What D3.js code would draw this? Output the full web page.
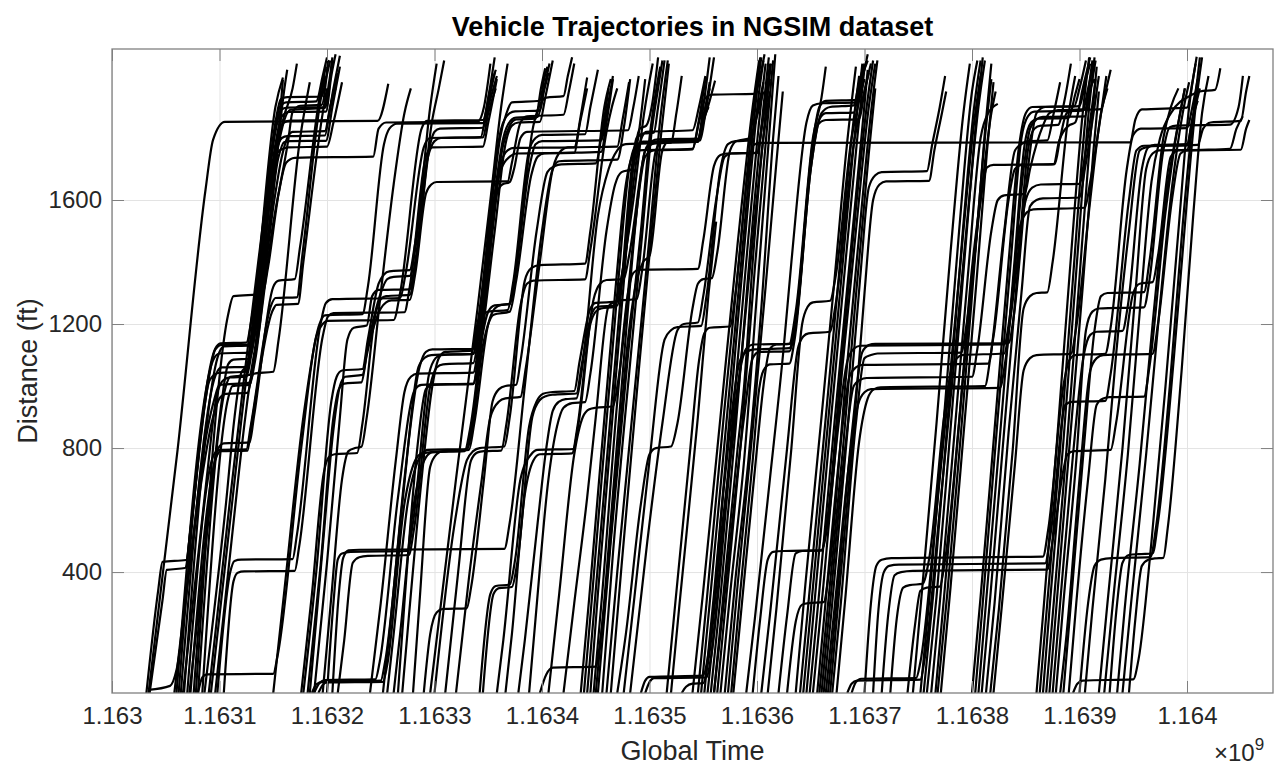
<!DOCTYPE html>
<html>
<head>
<meta charset="utf-8">
<script src="https://cdn.jsdelivr.net/npm/d3@7"></script>
<style>
  html, body { margin: 0; padding: 0; background: #fff; overflow: hidden; }
  svg { display: block; }
  text { font-family: "Liberation Sans", Arial, Helvetica, sans-serif; }
</style>
</head>
<body>
<div id="chart"></div>
<script>
const width = 1276, height = 767;
const margin = {top: 49, right: 3, bottom: 74, left: 112};
const innerWidth = width - margin.left - margin.right;
const innerHeight = height - margin.top - margin.bottom;

// global time is in ms; trajectory times below are seconds after timeBase
const timeBase = 1163000000;
const timeSpan = 1080;           // seconds shown on the x axis
const distanceRange = [10, 2087]; // ft

const xTickSeconds = [0, 100, 200, 300, 400, 500, 600, 700, 800, 900, 1000];
const xTickLabels = ["1.163", "1.1631", "1.1632", "1.1633", "1.1634", "1.1635",
                     "1.1636", "1.1637", "1.1638", "1.1639", "1.164"];
const yTicks = [400, 800, 1200, 1600];

// each vehicle: [seconds after timeBase, distance ft]
const wave1 = [
  [[34,10],[61,794],[87,1633],[94,1794],[105,1852],[247,1855],[257,1975]],
  [[32,10],[43,342],[47,433],[69,439],[73,536],[87,955],[96,1117],[102,1133],[127,1133],[133,1213],[152,1697],[159,1988]],
  [[35,10],[47,310],[51,407],[68,413],[74,568],[91,1020],[99,1042],[124,1046],[131,1149],[147,1600],[154,1762],[166,1891],[198,1897],[205,2052]],
  [[34,20],[54,33],[60,84],[73,439],[87,826],[95,955],[100,1004],[127,1010],[134,1117],[149,1504],[164,1794],[168,1884],[175,1904],[195,1907],[201,2052]],
  [[60,10],[95,1090],[100,1105],[127,1108],[131,1180],[152,1850],[157,1925],[163,1932],[195,1933],[199,1990],[203,2050]],
  [[64,10],[97,1040],[102,1060],[126,1062],[130,1130],[152,1820],[157,1890],[163,1898],[197,1899],[202,1980],[205,2060]],
  [[67,10],[100,1110],[104,1128],[129,1131],[133,1200],[152,1780],[158,1870],[165,1884],[199,1885],[204,2000],[208,2070]],
  [[70,10],[95,780],[100,794],[125,796],[129,870],[148,1260],[152,1284],[172,1286],[177,1420],[193,1900],[198,2000]],
  [[62,10],[96,1120],[101,1138],[125,1140],[130,1220],[150,1790],[156,1900],[162,1915],[190,1918],[196,2000],[200,2060]],
  [[66,10],[88,700],[98,980],[104,1020],[110,1028],[125,1030],[130,1110],[150,1700],[160,1870],[168,1960],[172,2040]],
  [[72,10],[92,640],[102,950],[108,1070],[113,1085],[128,1088],[133,1170],[154,1800],[160,1850],[166,1856],[200,1858],[206,1960],[212,2065]]
];
const wave2 = [
  [[73,10],[97,770],[101,790],[126,792],[130,880],[149,1240],[153,1262],[173,1265],[178,1400],[196,1880],[200,1960]],
  [[76,10],[99,800],[104,815],[128,818],[132,900],[150,1320],[155,1340],[170,1345],[175,1450],[194,1950],[199,2030]],
  [[80,10],[106,1000],[110,1030],[128,1036],[132,1100],[153,1760],[158,1800],[163,1806],[198,1808],[203,1900],[210,2010]],
  [[84,10],[108,960],[112,1000],[128,1004],[133,1080],[155,1740],[160,1786],[166,1790],[199,1791],[205,1900],[212,2030]],
  [[78,10],[108,1230],[113,1290],[140,1297],[145,1380],[155,1620],[162,1720],[170,1736],[243,1740],[248,1830],[255,1850],[340,1852],[346,1900],[352,2040]],
  [[80,10],[84,60],[88,70],[150,72],[154,130],[176,800],[190,1160],[196,1200],[200,1210],[262,1213],[268,1300],[288,1830],[293,1855],[345,1858],[352,1960],[357,2020]],
  [[92,10],[120,880],[134,1300],[152,1900],[159,1995]],
  [[96,10],[118,720],[124,900],[128,1000],[132,1040],[150,1046],[155,1150],[175,1800],[184,1980]],
  [[86,10],[106,620],[114,900],[120,1040],[126,1070],[132,1150],[152,1700],[160,1950],[163,2020]],
  [[90,10],[110,640],[122,1000],[136,1400],[148,1700],[156,1760],[164,1770],[200,1772],[206,1850],[214,1980]],
  [[58,10],[80,620],[94,900],[100,960],[106,975],[126,978],[131,1060],[151,1600],[158,1740],[163,1800],[168,1820],[198,1822],[203,1900],[208,1960]]
];
const wave3 = [
  [[98,10],[110,400],[114,436],[120,440],[168,442],[172,520],[194,1200],[199,1268],[205,1280],[268,1284],[273,1360],[290,1770],[296,1800],[343,1803],[348,1880],[356,2010]],
  [[104,10],[113,370],[117,398],[123,402],[170,404],[174,480],[196,1160],[201,1225],[206,1235],[272,1238],[277,1320],[292,1740],[298,1770],[345,1772],[350,1850],[358,1990]],
  [[150,10],[160,330],[178,900],[193,1200],[198,1228],[233,1232],[238,1320],[253,1780],[258,1830],[265,1846],[345,1848],[350,1930],[356,2060]],
  [[186,10],[190,38],[196,46],[250,50],[254,110],[270,620],[285,1060],[291,1092],[297,1100],[336,1104],[341,1190],[355,1640],[361,1800],[367,1880],[372,1915],[398,1920],[402,1990],[405,2030]],
  [[188,10],[193,42],[198,52],[245,54],[249,110],[266,640],[282,990],[288,1004],[336,1008],[341,1100],[358,1650],[364,1780],[370,1840],[376,1860],[394,1862],[399,1960],[403,2025]],
  [[192,10],[196,36],[200,44],[252,46],[256,100],[272,620],[282,760],[288,782],[295,786],[330,794],[335,860],[345,1130],[350,1200],[355,1230],[370,1240],[376,1340],[390,1680],[396,1740],[402,1750],[455,1755],[460,1850],[466,1990]],
  [[176,10],[186,330],[197,720],[202,772],[207,780],[228,784],[233,880],[245,1230],[250,1280],[255,1290],[277,1294],[282,1380],[296,1780],[300,1820],[305,1830],[345,1833],[350,1900],[358,2000]],
  [[178,10],[190,400],[204,950],[209,1030],[214,1050],[233,1055],[238,1150],[248,1330],[253,1360],[258,1370],[277,1374],[282,1460],[294,1740],[300,1790],[306,1800],[345,1802],[350,1880],[357,1960]],
  [[184,10],[196,480],[206,860],[212,1000],[217,1030],[233,1036],[238,1130],[250,1300],[256,1345],[262,1352],[277,1355],[282,1440],[296,1900],[302,2040]],
  [[196,10],[204,320],[214,700],[220,790],[226,800],[232,804],[237,900],[250,1300],[262,1650],[272,1880],[278,1960]]
];
const wave4 = [
  [[182,10],[194,420],[206,900],[211,990],[216,1008],[232,1012],[237,1100],[250,1250],[255,1270],[260,1276],[277,1278],[282,1360],[292,1620],[297,1650],[302,1658],[368,1660],[372,1720],[380,1850],[386,1870],[420,1875],[425,1950],[430,2040]],
  [[188,10],[200,430],[212,900],[219,1150],[225,1188],[237,1195],[242,1290],[248,1310],[277,1312],[282,1400],[298,1860],[304,1960],[309,2050]],
  [[200,10],[206,300],[210,440],[214,460],[222,465],[275,468],[280,560],[295,1040],[301,1090],[306,1100],[336,1104],[341,1200],[356,1700],[362,1830],[370,1880],[375,1886],[398,1888],[402,1960],[407,2040]],
  [[205,10],[211,330],[215,445],[220,470],[230,472],[365,475],[370,560],[384,1000],[400,1500],[410,1700],[416,1725],[470,1730],[476,1830],[482,1990]],
  [[252,10],[258,200],[272,700],[286,1060],[292,1110],[298,1118],[336,1120],[340,1200],[345,1230],[350,1240],[368,1245],[373,1330],[388,1760],[394,1800],[400,1810],[440,1812],[445,1900],[452,2020]],
  [[256,10],[262,200],[275,620],[288,780],[294,794],[330,797],[335,880],[345,1170],[350,1240],[356,1260],[370,1264],[375,1350],[388,1700],[394,1780],[400,1790],[455,1792],[460,1880],[466,2000]],
  [[262,10],[268,200],[280,600],[292,770],[298,786],[328,790],[333,860],[348,1300],[358,1620],[363,1650],[370,1658],[374,1700],[380,1800],[386,1820],[480,1825],[485,1900],[490,2000]],
  [[266,10],[272,300],[284,800],[292,990],[298,1004],[336,1006],[341,1090],[356,1500],[366,1780],[372,1840],[378,1850],[398,1852],[403,1930],[410,2050]],
  [[210,10],[216,180],[224,430],[230,448],[238,452],[276,455],[281,540],[296,1000],[302,1060],[308,1070],[336,1074],[341,1160],[356,1620],[364,1800],[372,1860],[376,1866],[396,1868],[401,1940],[406,2010]],
  [[240,10],[250,300],[264,760],[272,980],[278,1030],[284,1040],[336,1043],[341,1130],[354,1500],[362,1720],[368,1760],[374,1768],[430,1770],[436,1860],[442,1960]]
];
const wave5 = [
  [[270,10],[276,250],[288,700],[298,1000],[304,1090],[310,1110],[335,1114],[340,1200],[354,1580],[362,1700],[370,1740],[376,1750],[430,1752],[435,1850],[442,1995]],
  [[290,10],[296,200],[302,270],[308,281],[330,283],[334,350],[346,700],[354,950],[360,990],[366,1000],[376,1004],[380,1080],[395,1500],[405,1690],[412,1710],[418,1715],[450,1718],[455,1800],[462,1960]],
  [[280,10],[286,300],[296,740],[302,780],[308,790],[332,794],[337,880],[350,1200],[356,1250],[362,1262],[370,1265],[375,1360],[392,1840],[397,1900],[404,1930],[420,1935],[424,2000],[428,2060]],
  [[296,10],[320,700],[340,1250],[352,1600],[362,1900],[368,2040]],
  [[300,10],[318,540],[330,760],[336,790],[342,800],[365,805],[370,900],[384,1340],[390,1380],[398,1390],[440,1395],[445,1500],[458,1900],[464,1990]],
  [[342,10],[352,330],[357,355],[370,360],[375,440],[388,870],[395,950],[401,975],[408,980],[430,984],[435,1080],[445,1250],[450,1268],[470,1272],[475,1370],[488,1765],[494,1788],[547,1792],[552,1880],[560,2060]],
  [[345,10],[355,330],[360,348],[372,352],[377,430],[391,900],[398,955],[404,968],[410,972],[432,976],[437,1070],[446,1230],[451,1255],[470,1260],[475,1350],[490,1770],[497,1820],[540,1825],[546,1900],[552,2000]],
  [[358,10],[364,180],[380,700],[390,780],[396,794],[429,797],[434,880],[448,1280],[454,1330],[460,1342],[476,1345],[481,1420],[496,1760],[502,1790],[508,1796],[545,1798],[550,1870],[556,1960]],
  [[310,10],[322,400],[334,760],[340,786],[346,790],[362,792],[367,880],[380,1260],[386,1330],[392,1340],[440,1344],[445,1440],[460,1820],[465,1900],[470,1960]],
  [[320,10],[332,380],[344,700],[352,900],[360,950],[366,960],[380,965],[385,1060],[398,1400],[410,1700],[418,1760],[424,1770],[470,1772],[475,1860],[481,1980]]
];
const wave6 = [
  [[366,10],[372,200],[384,650],[392,760],[398,780],[428,783],[433,870],[445,1200],[450,1240],[455,1250],[467,1255],[472,1320],[485,1600],[495,1880],[503,2040]],
  [[378,10],[384,180],[396,560],[404,800],[410,920],[416,950],[422,958],[432,960],[437,1050],[452,1550],[462,1700],[470,1760],[478,1780],[520,1785],[525,1880],[530,2000]],
  [[388,10],[394,250],[406,700],[414,870],[420,930],[428,945],[440,948],[445,1040],[460,1500],[468,1650],[474,1690],[484,1700],[489,1790],[496,1990]],
  [[398,10],[404,70],[410,92],[450,95],[455,200],[470,760],[480,1150],[488,1340],[494,1400],[500,1420],[512,1760],[518,1790],[545,1795],[550,1860],[555,1900]],
  [[436,10],[444,320],[468,1300],[478,1650],[484,1740],[490,1760],[540,1765],[546,1850],[552,1930],[558,1940],[598,1942],[603,2000],[607,2070]],
  [[439,10],[447,340],[470,1300],[481,1700],[487,1775],[493,1785],[545,1788],[550,1850],[556,1920],[561,1985]],
  [[442,10],[449,300],[473,1280],[483,1690],[488,1800],[495,1815],[504,1817],[508,1900],[514,2050]],
  [[445,10],[452,330],[476,1330],[486,1750],[491,1830],[497,1840],[502,1900],[508,2060]],
  [[406,10],[416,330],[430,780],[438,900],[444,925],[450,930],[466,934],[471,1020],[486,1500],[496,1760],[502,1780],[508,1785],[545,1787],[550,1860],[556,1980]],
  [[420,10],[430,300],[442,640],[450,900],[462,1258],[468,1272],[472,1276],[488,1280],[493,1370],[506,1760],[512,1790],[545,1793],[550,1900],[556,2060]]
];
const wave7 = [
  [[448,10],[456,330],[470,950],[480,1300],[485,1365],[490,1375],[545,1378],[550,1470],[560,1710],[566,1745],[572,1750],[600,1752],[605,1850],[612,2040]],
  [[452,10],[464,500],[480,1100],[492,1500],[500,1800],[506,1950],[510,2030]],
  [[456,10],[466,460],[484,1150],[494,1520],[502,1820],[508,1960],[512,2050]],
  [[460,10],[470,400],[488,1050],[500,1480],[510,1860],[517,2050]],
  [[470,10],[478,200],[492,620],[500,780],[506,800],[520,805],[526,880],[540,1250],[545,1330],[550,1345],[558,1348],[563,1430],[575,1760],[581,1790],[594,1800],[600,1870],[606,1950]],
  [[482,10],[498,500],[512,880],[526,1180],[532,1200],[545,1205],[550,1290],[562,1600],[570,1740],[576,1750],[600,1752],[605,1850],[612,1990]],
  [[492,10],[496,50],[500,62],[550,66],[554,120],[570,700],[584,1080],[590,1110],[598,1118],[630,1122],[636,1200],[650,1700],[660,1880],[668,1900],[690,1905],[695,1980],[700,2040]],
  [[496,10],[500,45],[504,58],[553,60],[557,120],[572,640],[582,1000],[590,1120],[597,1134],[631,1136],[636,1220],[652,1790],[658,1900],[664,1920],[693,1923],[698,2000],[703,2050]],
  [[450,10],[458,310],[480,1250],[490,1620],[496,1740],[504,1760],[540,1763],[545,1840],[552,1990]],
  [[464,10],[474,420],[490,1050],[502,1500],[511,1820],[518,2040]],
  [[476,10],[486,320],[500,760],[514,1150],[520,1180],[526,1190],[548,1194],[553,1290],[566,1700],[573,1780],[580,1790],[594,1792],[600,1880],[606,1980]]
];
const wave8 = [
  [[516,10],[524,300],[538,800],[546,1080],[551,1170],[556,1188],[575,1192],[580,1300],[592,1700],[597,1778],[603,1784],[947,1786],[952,1860],[958,1892],[1000,1898],[1005,1980],[1009,2062]],
  [[520,10],[528,300],[545,900],[555,1300],[562,1530]],
  [[530,10],[534,30],[540,40],[550,42],[555,120],[568,560],[580,900],[594,1400],[606,1800],[612,1950]],
  [[548,10],[556,300],[572,900],[588,1500],[600,1950],[604,2060]],
  [[551,10],[560,330],[575,920],[590,1520],[602,1950],[606,2050]],
  [[554,10],[562,280],[577,880],[592,1480],[604,1920],[608,2040]],
  [[557,10],[566,320],[580,860],[594,1450],[606,1900],[611,2060]],
  [[560,10],[568,300],[582,800],[588,1000],[596,1400],[608,1880],[613,2040]],
  [[563,10],[572,340],[585,820],[598,1380],[610,1860],[615,2050]],
  [[566,10],[575,330],[588,760],[600,1300],[612,1840],[617,2070]],
  [[570,10],[580,380],[592,760],[604,1250],[615,1800],[620,2000]],
  [[560,10],[570,330],[588,900],[596,1090],[602,1110],[630,1112],[636,1200],[650,1720],[656,1840],[664,1858],[695,1860],[700,1950],[706,2040]],
  [[573,10],[582,360],[596,860],[608,1320],[618,1720],[624,1950]],
  [[576,10],[584,320],[596,760],[602,990],[606,1050],[612,1070],[630,1072],[635,1150],[650,1700],[658,1860],[664,1880],[690,1882],[695,1960],[700,2030]],
  [[540,10],[550,340],[566,900],[582,1460],[596,1900],[602,2050]],
  [[545,10],[553,300],[569,900],[585,1470],[598,1930],[603,2060]],
  [[578,10],[586,300],[600,800],[606,1000],[612,1120],[618,1134],[630,1136],[636,1240],[652,1800],[660,1930],[664,2030]]
];
const wave9 = [
  [[596,10],[603,250],[610,440],[615,465],[625,468],[660,470],[665,560],[678,1050],[690,1500],[702,1900],[708,2050]],
  [[628,10],[636,240],[642,295],[648,300],[662,303],[667,400],[682,1000],[694,1450],[706,1880],[712,2050]],
  [[640,10],[650,380],[664,900],[676,1350],[688,1800],[695,2000]],
  [[643,10],[652,350],[666,880],[678,1330],[690,1780],[698,2040]],
  [[646,10],[655,360],[669,900],[681,1350],[693,1790],[700,2030]],
  [[649,10],[658,340],[672,880],[684,1320],[696,1760],[703,2020]],
  [[652,10],[661,330],[675,850],[684,1080],[690,1120],[696,1130],[830,1134],[835,1220],[848,1700],[854,1830],[860,1860],[866,1868],[905,1870],[910,1950],[915,2050]],
  [[656,10],[665,350],[678,820],[686,1030],[692,1060],[698,1068],[815,1072],[820,1160],[834,1600],[840,1700],[846,1713],[877,1716],[882,1800],[888,1880],[894,1890],[920,1893],[925,1960],[929,2020]],
  [[660,10],[668,300],[682,800],[690,1000],[696,1020],[702,1026],[800,1030],[805,1120],[818,1500],[824,1600],[830,1615],[849,1620],[854,1700],[866,1840],[872,1880],[880,1890],[905,1892],[910,1960],[914,1990]],
  [[604,10],[612,260],[628,800],[638,1120],[643,1160],[648,1170],[668,1175],[673,1260],[690,1780],[698,1920],[704,2010]],
  [[610,10],[618,280],[632,800],[642,1200],[647,1255],[652,1270],[668,1275],[673,1350],[688,1800],[695,1920],[700,1990]],
  [[590,10],[598,250],[612,700],[625,1130],[632,1400],[646,1850],[652,1905],[660,1912],[693,1915],[698,1990],[703,2070]],
  [[636,10],[645,360],[660,900],[672,1340],[684,1790],[692,2030]],
  [[658,10],[667,330],[680,800],[692,1290],[704,1750],[710,1960]],
  [[620,10],[628,260],[636,460],[642,468],[660,470],[666,560],[680,1080],[692,1500],[704,1900],[710,2040]],
  [[666,10],[674,300],[688,840],[698,1110],[704,1132],[710,1136],[834,1138],[839,1230],[852,1700],[860,1880],[868,1900],[900,1903],[906,1990],[910,2040]]
];
const wave10 = [
  [[664,10],[672,280],[686,760],[694,940],[700,980],[706,990],[826,994],[831,1080],[845,1520],[851,1560],[857,1570],[905,1575],[910,1660],[925,2000]],
  [[670,10],[678,300],[692,880],[700,1090],[706,1100],[712,1105],[790,1108],[795,1200],[808,1600],[818,1880],[822,1950]],
  [[674,10],[682,310],[695,820],[703,960],[709,990],[715,996],[812,1000],[817,1090],[830,1500],[840,1760],[846,1780],[852,1790],[870,1792],[876,1880],[882,1980]],
  [[662,10],[670,300],[684,850],[696,1350],[704,1640],[710,1680],[716,1690],[758,1693],[763,1780],[770,1900],[775,2000]],
  [[668,10],[676,320],[690,860],[700,1300],[708,1600],[714,1650],[720,1660],[760,1662],[765,1760],[772,1880],[776,1950]],
  [[684,10],[688,40],[693,50],[752,53],[756,120],[770,600],[784,1100],[796,1550],[806,1900],[812,2050]],
  [[688,10],[692,45],[697,56],[748,58],[752,110],[766,560],[780,1050],[792,1500],[802,1850],[808,2000]],
  [[700,10],[706,300],[711,420],[716,440],[725,445],[866,450],[871,540],[885,1000],[890,1080],[896,1100],[924,1104],[929,1190],[944,1700],[950,1810],[957,1830],[1000,1832],[1005,1900],[1010,1990]],
  [[708,10],[713,280],[718,400],[723,420],[732,424],[868,428],[873,520],[887,940],[893,949],[924,952],[929,1040],[946,1600],[953,1760],[960,1775],[1010,1778],[1015,1830],[1022,1850],[1050,1855],[1055,1950],[1058,2000]],
  [[716,10],[722,260],[728,390],[734,400],[745,404],[870,408],[875,500],[889,780],[895,790],[929,794],[934,880],[950,1300],[956,1330],[968,1335],[973,1420],[985,1740],[992,1760],[1050,1762],[1055,1830],[1058,1858]],
  [[724,10],[730,250],[736,350],[742,358],[754,362],[760,440],[774,900],[780,1040],[786,1090],[791,1100],[830,1105],[835,1200],[850,1600],[856,1640],[864,1650],[900,1652],[905,1740],[915,1990]]
];
const wave11 = [
  [[752,10],[760,300],[774,900],[788,1500],[800,1950],[805,2050]],
  [[755,10],[764,330],[778,920],[791,1480],[802,1900],[808,2050]],
  [[758,10],[767,320],[780,860],[794,1450],[804,1860],[810,2060]],
  [[762,10],[770,300],[784,860],[796,1350],[808,1800],[815,1880],[824,1910]],
  [[766,10],[774,320],[788,880],[800,1380],[808,1600],[814,1705],[820,1713],[876,1716],[881,1790],[890,1840],[896,1850],[903,1960],[910,2060]],
  [[803,10],[810,300],[824,900],[836,1400],[846,1800],[852,1870],[858,1885],[903,1888],[908,1960],[913,2040]],
  [[806,10],[813,300],[827,880],[839,1380],[849,1780],[855,1850],[861,1862],[890,1865],[896,1940],[900,1990]],
  [[809,10],[817,320],[830,860],[842,1350],[852,1760],[858,1830],[864,1840],[880,1842],[886,1920],[892,2040]],
  [[813,10],[821,300],[834,850],[846,1300],[854,1580],[860,1600],[866,1605],[900,1608],[905,1700],[918,2000]],
  [[817,10],[825,280],[838,800],[848,1250],[854,1290],[860,1300],[870,1302],[875,1400],[890,1880],[896,2000]],
  [[768,10],[777,330],[790,860],[802,1380],[812,1820],[818,2040]],
  [[771,10],[780,350],[793,880],[804,1330],[814,1760],[820,1980]],
  [[745,10],[753,320],[767,880],[780,1430],[792,1880],[798,2040]],
  [[740,10],[747,230],[752,340],[758,350],[770,353],[775,440],[790,960],[802,1400],[812,1800],[818,1990]],
  [[800,10],[808,320],[821,860],[834,1400],[844,1780],[850,1880],[856,1900],[895,1902],[900,1960],[906,2050]],
  [[820,10],[828,300],[840,750],[848,1050],[854,1090],[860,1100],[892,1104],[897,1190],[910,1600],[920,1880],[926,1960]]
];
const wave12 = [
  [[863,10],[870,300],[882,800],[894,1350],[906,1880],[912,2050]],
  [[866,10],[873,320],[885,820],[897,1370],[909,1900],[914,2060]],
  [[869,10],[876,300],[888,800],[900,1350],[910,1800],[916,2030]],
  [[872,10],[879,310],[891,820],[903,1320],[913,1760],[918,1950]],
  [[875,10],[882,300],[894,780],[904,1100],[910,1165],[916,1175],[940,1178],[945,1260],[958,1700],[964,1770],[970,1778],[1000,1780],[1005,1860],[1012,1960]],
  [[878,10],[885,300],[897,760],[906,1180],[912,1240],[918,1250],[960,1254],[965,1340],[978,1760],[984,1835],[990,1840],[1040,1843],[1048,1900],[1052,2000]],
  [[882,10],[888,200],[900,700],[910,1050],[916,1090],[922,1100],[968,1104],[973,1200],[986,1600],[994,1750],[1000,1760],[1040,1765],[1046,1830],[1052,1870]],
  [[894,10],[898,40],[903,50],[950,54],[955,120],[967,500],[980,1000],[992,1500],[1002,1900],[1008,2040]],
  [[900,10],[908,300],[914,420],[920,440],[930,445],[966,448],[971,540],[984,1000],[996,1520],[1006,1880],[1012,2060]],
  [[918,10],[926,300],[940,800],[952,1300],[962,1700],[968,1750],[974,1760],[1000,1762],[1005,1850],[1010,1960]],
  [[923,10],[931,300],[945,780],[957,1280],[967,1660],[975,1800],[985,1880],[1005,1940],[1012,1950],[1026,1955],[1031,2025]],
  [[928,10],[935,300],[940,430],[946,455],[955,458],[968,460],[973,560],[988,1100],[1000,1600],[1008,1900],[1014,2060]],
  [[935,10],[942,280],[956,750],[968,1200],[980,1600],[992,1850],[998,1960]],
  [[860,10],[867,300],[879,820],[891,1370],[903,1880],[909,2060]],
  [[885,10],[892,300],[904,800],[914,1180],[920,1290],[926,1300],[960,1303],[965,1400],[978,1800],[985,1900],[992,1960]],
  [[890,10],[897,300],[908,700],[916,940],[922,960],[928,964],[960,966],[965,1060],[980,1560],[992,1850],[998,1960]],
  [[905,10],[912,280],[924,700],[934,1100],[946,1500],[956,1760],[962,1770],[968,1774],[1000,1776],[1005,1860],[1010,1920]],
  [[940,10],[948,300],[962,780],[974,1230],[986,1640],[996,1880],[1002,1980]],
  [[946,10],[952,250],[958,420],[964,440],[970,444],[978,446],[982,540],[995,1050],[1006,1560],[1014,1880],[1020,2000]]
];

const trajectories = [...wave1, ...wave2, ...wave3, ...wave4, ...wave5, ...wave6,
                      ...wave7, ...wave8, ...wave9, ...wave10, ...wave11, ...wave12];

const toGlobalTime = s => timeBase + s * 1000;

const xScale = d3.scaleLinear()
  .domain([timeBase, toGlobalTime(timeSpan)])
  .range([0, innerWidth]);

const yScale = d3.scaleLinear()
  .domain(distanceRange)
  .range([innerHeight, 0]);

const xTickValues = xTickSeconds.map(toGlobalTime);

const svg = d3.select("#chart").append("svg")
  .attr("width", width)
  .attr("height", height)
  .attr("viewBox", [0, 0, width, height]);

svg.append("defs").append("clipPath")
    .attr("id", "plot-clip")
  .append("rect")
    .attr("width", innerWidth)
    .attr("height", innerHeight);

const innerChart = svg.append("g")
  .attr("transform", `translate(${margin.left}, ${margin.top})`);

// grid
innerChart.append("g")
  .attr("transform", `translate(0, ${innerHeight})`)
  .call(d3.axisBottom(xScale).tickValues(xTickValues).tickSize(-innerHeight).tickFormat(""))
  .call(g => g.select(".domain").remove())
  .call(g => g.selectAll("text").remove())
  .call(g => g.selectAll("line").attr("stroke", "#e3e3e3"));

innerChart.append("g")
  .call(d3.axisLeft(yScale).tickValues(yTicks).tickSize(-innerWidth).tickFormat(""))
  .call(g => g.select(".domain").remove())
  .call(g => g.selectAll("text").remove())
  .call(g => g.selectAll("line").attr("stroke", "#e3e3e3"));

// trajectories
const lineGenerator = d3.line()
  .x(d => xScale(toGlobalTime(d[0])))
  .y(d => yScale(d[1]))
  .curve(d3.curveMonotoneX);

innerChart.append("g")
    .attr("clip-path", "url(#plot-clip)")
  .selectAll(".trajectory")
  .data(trajectories)
  .join("path")
    .attr("class", "trajectory")
    .attr("d", lineGenerator)
    .attr("fill", "none")
    .attr("stroke", "#000")
    .attr("stroke-width", 2.2)
    .attr("stroke-linejoin", "round");

// axes
const axisColor = "#808080";
const labelColor = "#262626";

const styleAxis = g => {
  g.select(".domain").remove();
  g.selectAll(".tick line").attr("stroke", axisColor);
  g.selectAll(".tick text")
    .attr("fill", labelColor)
    .attr("font-size", 24)
    .attr("font-family", "'Liberation Sans', Arial, sans-serif");
};

innerChart.append("g")
  .attr("transform", `translate(0, ${innerHeight})`)
  .call(d3.axisBottom(xScale)
    .tickValues(xTickValues)
    .tickFormat((d, i) => xTickLabels[i])
    .tickSizeInner(-12).tickSizeOuter(0).tickPadding(14))
  .call(styleAxis);

innerChart.append("g")
  .call(d3.axisTop(xScale).tickValues(xTickValues).tickFormat("").tickSizeInner(-12).tickSizeOuter(0))
  .call(g => g.selectAll("text").remove())
  .call(styleAxis);

innerChart.append("g")
  .call(d3.axisLeft(yScale)
    .tickValues(yTicks)
    .tickFormat(d3.format("d"))
    .tickSizeInner(-12).tickSizeOuter(0).tickPadding(10))
  .call(styleAxis);

innerChart.append("g")
  .attr("transform", `translate(${innerWidth}, 0)`)
  .call(d3.axisRight(yScale).tickValues(yTicks).tickFormat("").tickSizeInner(-12).tickSizeOuter(0))
  .call(g => g.selectAll("text").remove())
  .call(styleAxis);

innerChart.append("rect")
  .attr("width", innerWidth)
  .attr("height", innerHeight)
  .attr("fill", "none")
  .attr("stroke", axisColor)
  .attr("stroke-width", 1.3);

// labels
svg.append("text")
  .attr("x", margin.left + innerWidth / 2)
  .attr("y", 36)
  .attr("text-anchor", "middle")
  .attr("font-size", 27)
  .attr("font-weight", "bold")
  .attr("fill", "#000")
  .text("Vehicle Trajectories in NGSIM dataset");

svg.append("text")
  .attr("x", margin.left + innerWidth / 2)
  .attr("y", 760)
  .attr("text-anchor", "middle")
  .attr("font-size", 27)
  .attr("fill", labelColor)
  .text("Global Time");

svg.append("text")
  .attr("transform", `translate(37, ${margin.top + innerHeight / 2}) rotate(-90)`)
  .attr("text-anchor", "middle")
  .attr("font-size", 27)
  .attr("fill", labelColor)
  .text("Distance (ft)");

const expLabel = svg.append("text")
  .attr("x", 1214)
  .attr("y", 761)
  .attr("font-size", 24)
  .attr("fill", labelColor);
expLabel.append("tspan").text("\u00d710");
expLabel.append("tspan").attr("dy", -11).attr("font-size", 17).text("9");
</script>
</body>
</html>
